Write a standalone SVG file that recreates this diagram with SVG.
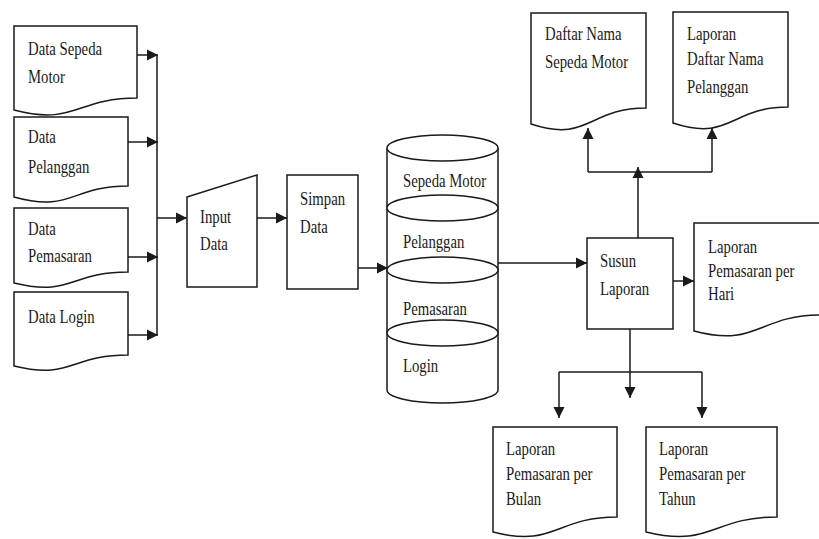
<svg xmlns="http://www.w3.org/2000/svg" width="819" height="539" viewBox="0 0 819 539">
<defs>
<marker id="arr" markerUnits="userSpaceOnUse" markerWidth="12" markerHeight="12" refX="11" refY="5.5" orient="auto" viewBox="0 0 12 11">
<path d="M0,0 L11,5.5 L0,11 Z" fill="#1a1a1a"/>
</marker>
<style>
.s{fill:#fff;stroke:#1a1a1a;stroke-width:1.5}
.c{fill:none;stroke:#1a1a1a;stroke-width:1.5}
.t{font-family:"Liberation Serif","Times New Roman",serif;font-size:18px;fill:#1a1a1a}
</style>
</defs>
<rect width="819" height="539" fill="#fff"/>

<g id="doc-data-sepeda-motor">
<path class="s" d="M14,26 H137 V98 C75.5,98 75.5,126 14,110 Z"/>
<text class="t" transform="translate(28,55) scale(0.82,1)">Data Sepeda</text>
<text class="t" transform="translate(28,83) scale(0.82,1)">Motor</text>
</g>
<g id="doc-data-pelanggan">
<path class="s" d="M14,117 H128 V186 C71,186 71,213 14,197 Z"/>
<text class="t" transform="translate(28,143) scale(0.82,1)">Data</text>
<text class="t" transform="translate(28,173) scale(0.82,1)">Pelanggan</text>
</g>
<g id="doc-data-pemasaran">
<path class="s" d="M14,208 H128 V272 C71,272 71,297 14,283 Z"/>
<text class="t" transform="translate(28,235) scale(0.82,1)">Data</text>
<text class="t" transform="translate(28,262) scale(0.82,1)">Pemasaran</text>
</g>
<g id="doc-data-login">
<path class="s" d="M14,292 H128 V355 C71,355 71,380 14,366 Z"/>
<text class="t" transform="translate(28,323) scale(0.82,1)">Data Login</text>
</g>

<g id="input-data">
<path class="s" d="M187,197 L257,175 V287 H187 Z"/>
<text class="t" transform="translate(200,223) scale(0.82,1)">Input</text>
<text class="t" transform="translate(200,250) scale(0.82,1)">Data</text>
</g>

<g id="simpan-data">
<rect class="s" x="287" y="175" width="71" height="114"/>
<text class="t" transform="translate(300,205) scale(0.82,1)">Simpan</text>
<text class="t" transform="translate(300,233) scale(0.82,1)">Data</text>
</g>

<g id="database">
<path class="s" d="M387,148 V390 A55.5,13 0 0 0 498,390 V148"/>
<ellipse class="s" cx="442.5" cy="148" rx="55.5" ry="13"/>
<ellipse class="s" cx="442.5" cy="208" rx="55.5" ry="13"/>
<ellipse class="s" cx="442.5" cy="270" rx="55.5" ry="13"/>
<ellipse class="s" cx="442.5" cy="333" rx="55.5" ry="13"/>
<text class="t" transform="translate(403,187) scale(0.82,1)">Sepeda Motor</text>
<text class="t" transform="translate(403,248) scale(0.82,1)">Pelanggan</text>
<text class="t" transform="translate(403,315) scale(0.82,1)">Pemasaran</text>
<text class="t" transform="translate(403,372) scale(0.82,1)">Login</text>
</g>

<g id="susun-laporan">
<rect class="s" x="587" y="238" width="86" height="91"/>
<text class="t" transform="translate(600,267) scale(0.82,1)">Susun</text>
<text class="t" transform="translate(600,295) scale(0.82,1)">Laporan</text>
</g>

<g id="doc-daftar-nama-sepeda-motor">
<path class="s" d="M531,13 H646 V108 C588.5,108 588.5,143 531,124 Z"/>
<text class="t" transform="translate(545,40) scale(0.82,1)">Daftar Nama</text>
<text class="t" transform="translate(545,68) scale(0.82,1)">Sepeda Motor</text>
</g>
<g id="doc-laporan-daftar-nama-pelanggan">
<path class="s" d="M673,12 H788 V107 C730.5,107 730.5,142 673,123 Z"/>
<text class="t" transform="translate(687,40) scale(0.82,1)">Laporan</text>
<text class="t" transform="translate(687,65) scale(0.82,1)">Daftar Nama</text>
<text class="t" transform="translate(687,93) scale(0.82,1)">Pelanggan</text>
</g>
<g id="doc-laporan-pemasaran-hari">
<path class="s" d="M694,223 H821 V315 C757.5,315 757.5,348 694,331 Z"/>
<text class="t" transform="translate(708,253) scale(0.82,1)">Laporan</text>
<text class="t" transform="translate(708,277) scale(0.82,1)">Pemasaran per</text>
<text class="t" transform="translate(708,300) scale(0.82,1)">Hari</text>
</g>
<g id="doc-laporan-pemasaran-bulan">
<path class="s" d="M493,427 H617 V517 C555,517 555,548 493,532 Z"/>
<text class="t" transform="translate(506,455) scale(0.82,1)">Laporan</text>
<text class="t" transform="translate(506,480) scale(0.82,1)">Pemasaran per</text>
<text class="t" transform="translate(506,505) scale(0.82,1)">Bulan</text>
</g>
<g id="doc-laporan-pemasaran-tahun">
<path class="s" d="M646,427 H777 V517 C711.5,517 711.5,548 646,532 Z"/>
<text class="t" transform="translate(659,455) scale(0.82,1)">Laporan</text>
<text class="t" transform="translate(659,480) scale(0.82,1)">Pemasaran per</text>
<text class="t" transform="translate(659,505) scale(0.82,1)">Tahun</text>
</g>

<g id="connectors">
<line class="c" x1="137" y1="55" x2="158" y2="55" marker-end="url(#arr)"/>
<line class="c" x1="128" y1="142" x2="158" y2="142" marker-end="url(#arr)"/>
<line class="c" x1="128" y1="257" x2="158" y2="257" marker-end="url(#arr)"/>
<line class="c" x1="128" y1="335" x2="158" y2="335" marker-end="url(#arr)"/>
<line class="c" x1="157" y1="55" x2="157" y2="335"/>
<line class="c" x1="157" y1="218" x2="187" y2="218" marker-end="url(#arr)"/>
<line class="c" x1="257" y1="218" x2="287" y2="218" marker-end="url(#arr)"/>
<line class="c" x1="358" y1="268" x2="388" y2="268" marker-end="url(#arr)"/>
<line class="c" x1="498" y1="263" x2="587" y2="263" marker-end="url(#arr)"/>
<line class="c" x1="673" y1="281" x2="694" y2="281" marker-end="url(#arr)"/>
<line class="c" x1="638" y1="238" x2="638" y2="167" marker-end="url(#arr)"/>
<line class="c" x1="588" y1="172" x2="712" y2="172"/>
<line class="c" x1="588" y1="172" x2="588" y2="128" marker-end="url(#arr)"/>
<line class="c" x1="712" y1="172" x2="712" y2="128" marker-end="url(#arr)"/>
<line class="c" x1="630" y1="329" x2="630" y2="398" marker-end="url(#arr)"/>
<line class="c" x1="559" y1="372" x2="702" y2="372"/>
<line class="c" x1="559" y1="372" x2="559" y2="418" marker-end="url(#arr)"/>
<line class="c" x1="702" y1="372" x2="702" y2="418" marker-end="url(#arr)"/>
</g>
</svg>
